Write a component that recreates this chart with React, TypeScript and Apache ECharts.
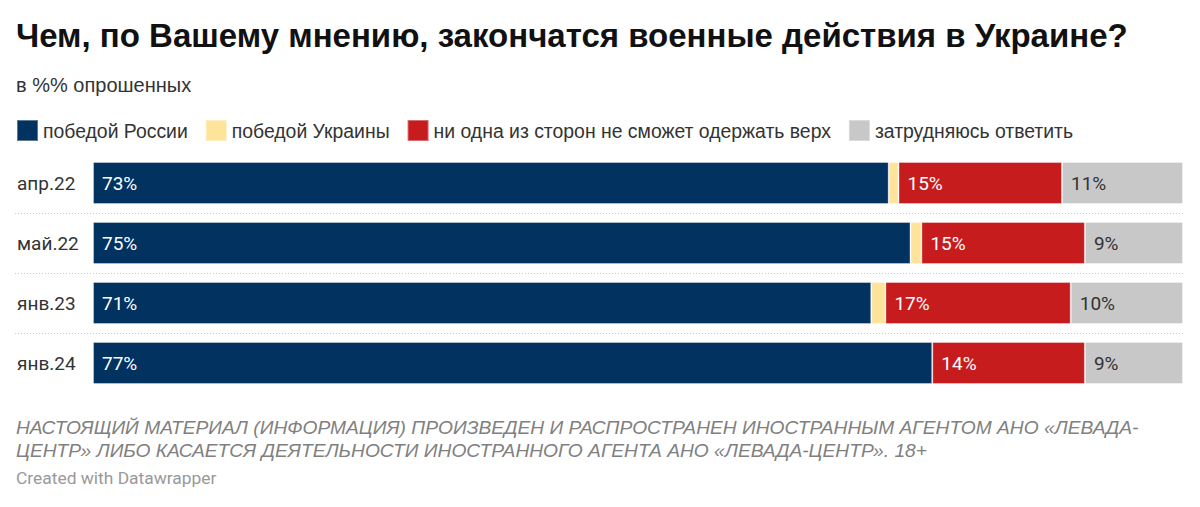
import React, { useEffect, useRef } from "react";
import * as echarts from "echarts";

const categories = ["апр.22", "май.22", "янв.23", "янв.24"];
const seriesNames = [
  "победой России",
  "победой Украины",
  "ни одна из сторон не сможет одержать верх",
  "затрудняюсь ответить",
];
const russiaWin = [73, 75, 71.4, 77];
const ukraineWin = [0.9, 1.0, 1.3, 0];
const noSideWins = [15, 15, 17, 14];
const hardToSay = [11.1, 9, 10.3, 9];
const seriesColors = ["#02325f", "#fee39b", "#c71c1e", "#c8c8c8"];
const labelColors = ["#ffffff", "#333333", "#ffffff", "#333333"];
const showLabels = [true, false, true, true];

const TITLE = "Чем, по Вашему мнению, закончатся военные действия в Украине?";
const SUBTITLE = "в %% опрошенных";
const NOTE1 =
  "НАСТОЯЩИЙ МАТЕРИАЛ (ИНФОРМАЦИЯ) ПРОИЗВЕДЕН И РАСПРОСТРАНЕН ИНОСТРАННЫМ АГЕНТОМ АНО «ЛЕВАДА-";
const NOTE2 =
  "ЦЕНТР» ЛИБО КАСАЕТСЯ ДЕЯТЕЛЬНОСТИ ИНОСТРАННОГО АГЕНТА АНО «ЛЕВАДА-ЦЕНТР». 18+";
const CREDIT = "Created with Datawrapper";

export default function App() {
  const ref = useRef<HTMLDivElement>(null);
  useEffect(() => {
    document.body.style.margin = "0";
    if (!ref.current) return;
    const chart = echarts.init(ref.current, undefined, { renderer: "svg" });
    const data = [russiaWin, ukraineWin, noSideWins, hardToSay];
    const sans = "'Liberation Sans', Arial, sans-serif";
    const rob = "Roboto, sans-serif";
    chart.setOption({
      animation: false,
      backgroundColor: "#ffffff",
      title: [
        {
          text: TITLE,
          left: 16,
          top: 19,
          padding: 0,
          textStyle: { fontFamily: sans, fontSize: 33, fontWeight: "bold", color: "#111" },
        },
        {
          text: SUBTITLE,
          left: 16,
          top: 75,
          padding: 0,
          textStyle: { fontFamily: sans, fontSize: 20, fontWeight: "normal", color: "#333" },
        },
        {
          text: NOTE1 + "\n" + NOTE2,
          left: 16,
          top: 416,
          padding: 0,
          textStyle: {
            fontFamily: sans,
            fontSize: 19.2,
            fontStyle: "italic",
            fontWeight: "normal",
            color: "#808080",
            lineHeight: 23,
          },
        },
        {
          text: CREDIT,
          left: 16,
          top: 469,
          padding: 0,
          textStyle: { fontFamily: rob, fontSize: 17.4, fontWeight: "normal", color: "#999" },
        },
      ],
      legend: {
        left: 16,
        top: 119,
        padding: 0,
        icon: "rect",
        itemWidth: 21,
        itemHeight: 21,
        itemGap: 17,
        data: seriesNames,
        textStyle: { fontFamily: sans, fontSize: 19.4, color: "#333" },
        selectedMode: false,
      },
      grid: { left: 93, right: 17, top: 153, height: 240, containLabel: false },
      xAxis: {
        type: "value",
        min: 0,
        max: 100,
        show: false,
      },
      yAxis: {
        type: "category",
        data: categories,
        inverse: true,
        axisLine: { show: false },
        axisTick: { show: false },
        splitLine: { show: false },
        axisLabel: {
          align: "left",
          margin: 76,
          fontFamily: rob,
          fontSize: 19,
          color: "#333",
        },
      },
      series: seriesNames.map((name, i) => ({
        name,
        type: "bar",
        stack: "total",
        barWidth: 42,
        data: data[i],
        itemStyle: {
          color: seriesColors[i],
          borderColor: "rgba(255,255,255,0.35)",
          borderWidth: 1,
        },
        label: {
          show: showLabels[i],
          position: "insideLeft",
          distance: 9,
          color: labelColors[i],
          fontFamily: rob,
          fontSize: 19,
          formatter: (p: any) => `${Math.round(p.value)}%`,
        },
      })),
    });

    // dotted separators between rows
    const centers = categories.map((c) => chart.convertToPixel({ yAxisIndex: 0 }, c) as number);
    const lines = [];
    for (let i = 0; i < centers.length - 1; i++) {
      const y = Math.round((centers[i] + centers[i + 1]) / 2) + 0.5;
      lines.push({
        type: "line",
        shape: { x1: 15, y1: y, x2: 1183, y2: y },
        style: { stroke: "#cccccc", lineWidth: 1, lineDash: [1, 2] },
        silent: true,
      });
    }
    chart.setOption({ graphic: lines });

    return () => chart.dispose();
  }, []);
  return <div ref={ref} style={{ width: 1200, height: 507 }} />;
}
